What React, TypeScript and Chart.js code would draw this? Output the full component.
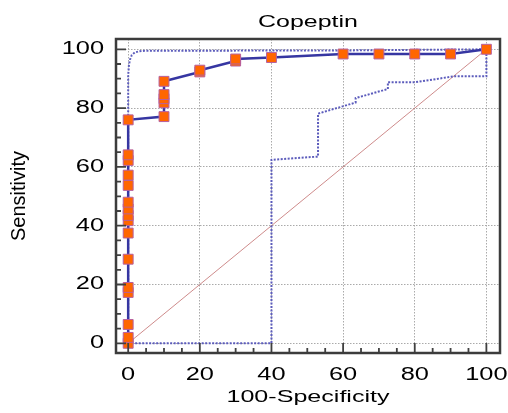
import React, { useEffect, useRef } from "react";
import { Chart, registerables } from "chart.js";

Chart.register(...registerables);

// ROC curve (main)
const rocX = [0, 0, 0, 0, 0, 0, 0, 0, 0, 0, 0, 0, 0, 0, 0, 0, 10, 10, 10, 10, 10, 20, 20, 30, 30, 40, 60, 70, 80, 90, 100];
const rocY = [0, 2, 6.4, 17.3, 19, 28.6, 37.5, 41.7, 43.5, 45.7, 48, 53.7, 57.2, 62.2, 64.1, 76, 77.1, 81.8, 83.2, 84.6, 89.1, 92.3, 92.9, 96.0, 96.7, 97.2, 98.4, 98.4, 98.4, 98.4, 100];

// Upper confidence bound
const upperX = [0, 0, 0.2, 0.5, 1, 1.8, 3, 4.5, 60, 100];
const upperY = [0, 91, 94.5, 96.5, 98, 98.9, 99.3, 99.5, 99.6, 100];

// Lower confidence bound
const lowerX = [0, 40, 40, 53, 53, 63.5, 63.5, 72.5, 72.5, 80, 91, 100, 100];
const lowerY = [0, 0, 62.4, 63.5, 78.1, 81.9, 83.4, 86.5, 88.8, 88.8, 90.8, 90.8, 100];

// Reference diagonal
const diagX = [0, 100];
const diagY = [0, 100];

// Ticks
const xTicks = [0, 20, 40, 60, 80, 100];
const yTicks = [0, 20, 40, 60, 80, 100];
const minorTicks = [0, 5, 10, 15, 20, 25, 30, 35, 40, 45, 50, 55, 60, 65, 70, 75, 80, 85, 90, 95, 100];

const FONT = "'Liberation Sans', Arial, Helvetica, sans-serif";

const toPts = (xs: number[], ys: number[]) => xs.map((x, i) => ({ x, y: ys[i] }));

// horizontal stretch of texts, by font size
const stretchFor = (font: string) => {
  const m = /(\d+(?:\.\d+)?)px/.exec(font);
  const s = m ? parseFloat(m[1]) : 0;
  if (s === 16) return 1.56;
  if (s === 17) return 1.475;
  if (s === 18) return 1.41;
  return 1;
};

const stretchPlugin = {
  id: "stretchText",
  beforeDraw(chart: any) {
    const ctx = chart.ctx;
    if (ctx.__patched) return;
    const orig = ctx.fillText.bind(ctx);
    ctx.fillText = function (text: string, x: number, y: number, maxWidth?: number) {
      const t = ctx.getTransform();
      const sx = stretchFor(ctx.font);
      if (Math.abs(t.b) > 1e-6 || Math.abs(t.c) > 1e-6 || sx === 1) {
        return maxWidth === undefined ? orig(text, x, y) : orig(text, x, y, maxWidth);
      }
      ctx.save();
      ctx.translate(x, y);
      ctx.scale(sx, 1);
      if (maxWidth === undefined) orig(text, 0, 0);
      else orig(text, 0, 0, maxWidth);
      ctx.restore();
    };
    ctx.__patched = true;
  },
};

const framePlugin = {
  id: "frameTicks",
  afterDraw(chart: any) {
    const { ctx, chartArea } = chart;
    const { left, right, top, bottom } = chartArea;
    const xs = chart.scales.x;
    const ys = chart.scales.y;
    ctx.save();
    ctx.strokeStyle = "#404040";
    ctx.lineWidth = 1.8;
    ctx.beginPath();
    minorTicks.forEach((v) => {
      const major = v % 20 === 0;
      const len = major ? 10 : 5;
      const px = xs.getPixelForValue(v);
      ctx.moveTo(px, bottom);
      ctx.lineTo(px, bottom - len);
      const py = ys.getPixelForValue(v);
      ctx.moveTo(left, py);
      ctx.lineTo(left + len, py);
    });
    ctx.stroke();
    ctx.lineWidth = 2.5;
    ctx.strokeStyle = "#3c3c3c";
    ctx.strokeRect(left, top, right - left, bottom - top);
    ctx.restore();
  },
};

export default function App() {
  const ref = useRef<HTMLCanvasElement | null>(null);

  useEffect(() => {
    if (!ref.current) return;
    Chart.defaults.color = "#000";
    const chart = new Chart(ref.current, {
      type: "line",
      data: {
        datasets: [
          {
            label: "ROC",
            data: toPts(rocX, rocY),
            borderColor: "#3636a2",
            borderWidth: 2.5,
            pointStyle: "rect",
            pointRadius: 7,
            pointBackgroundColor: "#ff6600",
            pointBorderColor: "#b7609f",
            pointBorderWidth: 1,
            tension: 0,
            fill: false,
          },
          {
            label: "Upper",
            data: toPts(upperX, upperY),
            borderColor: "#5c5cbc",
            borderWidth: 2,
            borderDash: [2, 1.5],
            pointRadius: 0,
            tension: 0,
            fill: false,
          },
          {
            label: "Lower",
            data: toPts(lowerX, lowerY),
            borderColor: "#5c5cbc",
            borderWidth: 2,
            borderDash: [2, 1.5],
            pointRadius: 0,
            tension: 0,
            fill: false,
          },
          {
            label: "Diagonal",
            data: toPts(diagX, diagY),
            borderColor: "rgba(190,100,100,0.75)",
            borderWidth: 1,
            pointRadius: 0,
            tension: 0,
            fill: false,
          },
        ],
      },
      options: {
        animation: false,
        responsive: false,
        layout: { padding: { top: 0, left: 0, right: 7, bottom: 0 } },
        plugins: {
          legend: { display: false },
          tooltip: { enabled: false },
          title: {
            display: true,
            text: "Copeptin",
            fullSize: false,
            color: "#000",
            font: { size: 16, family: FONT, weight: "normal" },
            padding: { top: 13, bottom: 6.8 },
          },
        },
        scales: {
          x: {
            type: "linear",
            min: -3.4,
            max: 103.8,
            afterBuildTicks: (s: any) => {
              s.ticks = xTicks.map((v) => ({ value: v }));
            },
            afterFit: (s: any) => {
              s.height = 60;
              s.paddingLeft = 0;
              s.paddingRight = 0;
            },
            ticks: {
              color: "#000",
              font: { size: 18, family: FONT },
              padding: 11,
              maxRotation: 0,
              autoSkip: false,
              callback: (v: any) => String(v),
            },
            grid: { color: "#aaaaaa", lineWidth: 1, drawTicks: false },
            border: { display: false, dash: [1.5, 1.5] },
            title: {
              display: true,
              text: "100-Specificity",
              color: "#000",
              font: { size: 17, family: FONT },
              padding: { top: 5.8, bottom: 5.8 },
            },
          },
          y: {
            type: "linear",
            min: -3.3,
            max: 103.5,
            afterBuildTicks: (s: any) => {
              s.ticks = yTicks.map((v) => ({ value: v }));
            },
            afterFit: (s: any) => {
              s.width = 116;
              s.paddingTop = 0;
              s.paddingBottom = 0;
            },
            ticks: {
              color: "#000",
              font: { size: 18, family: FONT },
              padding: 12,
              autoSkip: false,
              callback: (v: any) => String(v),
            },
            grid: { color: "#aaaaaa", lineWidth: 1, drawTicks: false },
            border: { display: false, dash: [1.5, 1.5] },
            title: {
              display: true,
              text: "Sensitivity",
              color: "#000",
              font: { size: 20, family: FONT },
              padding: { top: 7, bottom: 7 },
            },
          },
        },
      } as any,
      plugins: [stretchPlugin, framePlugin],
    });
    return () => chart.destroy();
  }, []);

  return (
    <div style={{ position: "absolute", left: 0, top: 0, width: 508, height: 413, background: "#fff" }}>
      <canvas ref={ref} width={508} height={413} style={{ display: "block" }} />
    </div>
  );
}
